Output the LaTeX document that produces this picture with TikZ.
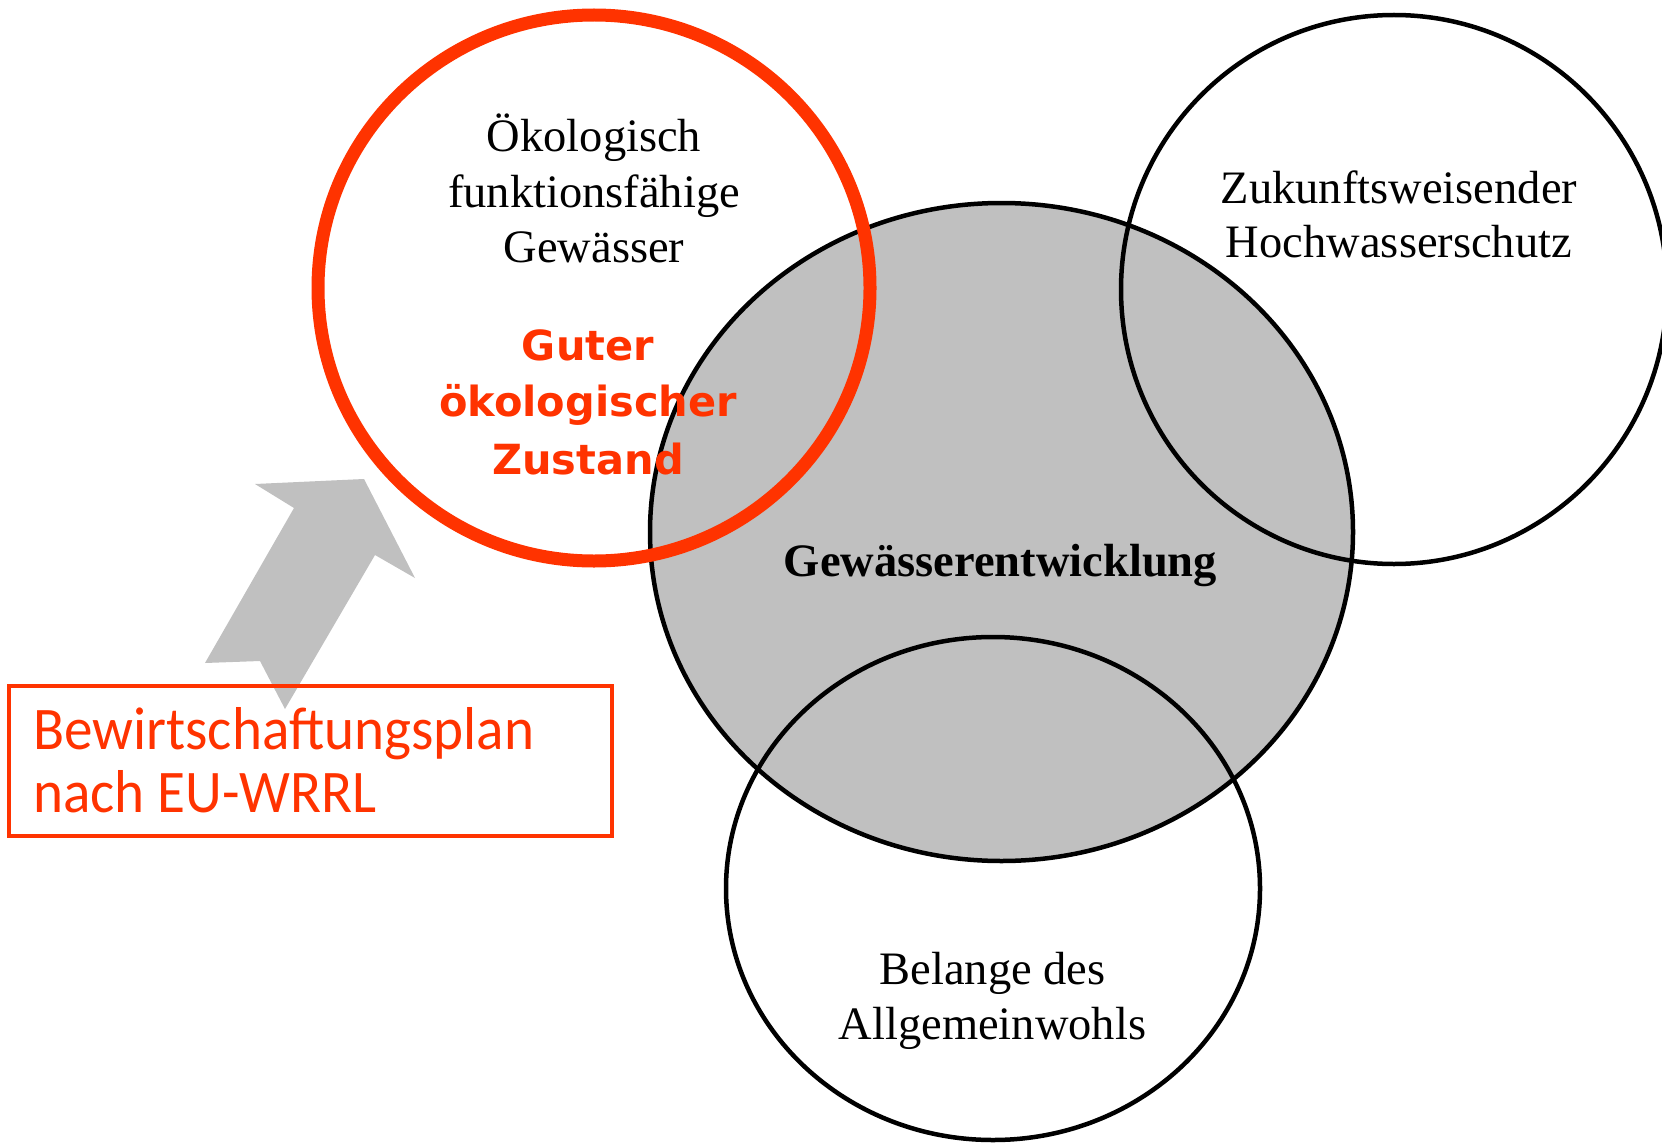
\documentclass[tikz,border=0pt]{standalone}
\usepackage{fontspec}
\setmainfont{Liberation Serif}
\newfontfamily\plansans{Carlito}
\newfontfamily\goalsans{DejaVu Sans}
\definecolor{wrrlred}{RGB}{255,51,0}
\definecolor{venngray}{RGB}{192,192,192}
\begin{document}
\begin{tikzpicture}[x=1pt,y=-1pt,
  outline/.style={draw=black,line width=4.5pt},
  serifline/.style={font=\fontsize{46.5}{55}\selectfont,anchor=base,inner sep=0pt,text=black},
  goalline/.style={font=\goalsans\bfseries\fontsize{41.5}{57}\selectfont,anchor=base,inner sep=0pt,text=wrrlred},
  planline/.style={font=\plansans\fontsize{60.5}{63}\selectfont,anchor=base west,inner sep=0pt,text=wrrlred}]
\clip (0,0) rectangle (1662,1145);
\fill[white] (0,0) rectangle (1662,1145);
% centres
\coordinate (cDev) at (1001.5,532);
\coordinate (cEco) at (594,288);
\coordinate (cFlood) at (1394,289.5);
\coordinate (cPub) at (993,888.5);
% central grey ellipse
\fill[venngray] (cDev) ellipse [x radius=351.5, y radius=329];
\draw[outline] (cDev) ellipse [x radius=351.5, y radius=329];
% other ellipses
\draw[outline] (cFlood) ellipse [x radius=273, y radius=274.5];
\draw[outline] (cPub) ellipse [x radius=267, y radius=251.5];
% red ellipse
\draw[wrrlred,line width=13pt] (cEco) ellipse [x radius=276, y radius=273];
% texts
\node[serifline] (e1) at (594,151) {Ökologisch};
\node[serifline] (e2) at (594,207) {funktionsfähige};
\node[serifline] (e3) at (594,262) {Gewässer};
\node[goalline] (g1) at (588,360) {Guter};
\node[goalline] (g2) at (588,416) {ökologischer};
\node[goalline] (g3) at (588,474) {Zustand};
\node[serifline] (f1) at (1399,203) {Zukunftsweisender};
\node[serifline] (f2) at (1399,257) {Hochwasserschutz};
\node[serifline,font=\bfseries\fontsize{46.5}{55}\selectfont] (d1) at (1000.5,576) {Gewässerentwicklung};
\node[serifline] (p1) at (992.5,984.5) {Belange des};
\node[serifline] (p2) at (992.5,1039.5) {Allgemeinwohls};
% grey block arrow
\fill[venngray] (255,484) -- (364,479) -- (415,578) -- (375,555) -- (285,709)
  -- (260,661) -- (205,663) -- (294,508) -- cycle;
% plan box
\draw[wrrlred,line width=4pt] (9,686) rectangle (612,836);
\node[planline] (b1) at (33,749) {\scalebox{0.945}[1]{Bewirtschaftungsplan}};
\node[planline] (b2) at (33,812) {\scalebox{0.945}[1]{nach EU-WRRL}};
\end{tikzpicture}
\end{document}
